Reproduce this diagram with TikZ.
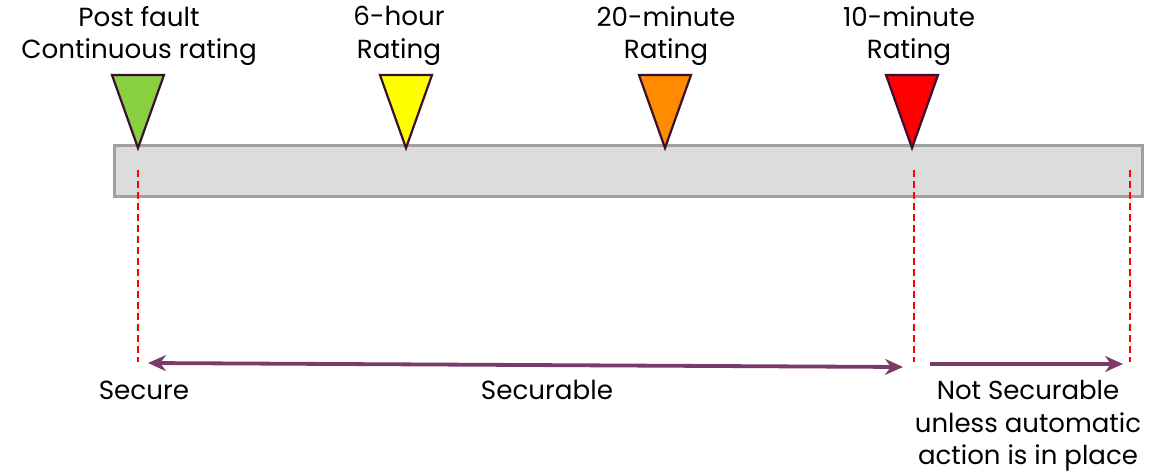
\documentclass[tikz,border=0pt]{standalone}
\usepackage{fontspec}
\setmainfont{Poppins}
\usetikzlibrary{arrows.meta}
\definecolor{barfill}{HTML}{DCDCDC}
\definecolor{barline}{HTML}{A0A0A0}
\definecolor{triline}{HTML}{3A0F33}
\definecolor{arrowc}{HTML}{7A3A6C}
\definecolor{tgreen}{HTML}{88D040}
\definecolor{tyellow}{HTML}{FFFF00}
\definecolor{torange}{HTML}{FF8C00}
\definecolor{tred}{HTML}{FF0000}
\tikzset{
  lbl/.style={font=\fontsize{26.2}{32.5}\selectfont, align=center, inner sep=0pt},
  lblb/.style={font=\fontsize{26}{32.5}\selectfont, align=center, inner sep=0pt},
  marker/.style={draw=triline, line width=2.2pt, line join=miter},
  guide/.style={draw=red, line width=2pt, dash pattern=on 7pt off 4pt},
  span/.style={draw=arrowc, line width=3.8pt, >={Stealth[length=18pt,width=16pt]}},
}
\begin{document}
\begin{tikzpicture}[x=1pt,y=-1pt]
\useasboundingbox (0,0) rectangle (1155,474);
% bar
\node[draw=barline, fill=barfill, line width=2.5pt, minimum width=1028pt, minimum height=51pt, inner sep=0pt, anchor=north west] (bar) at (113,144) {};
% markers
\foreach \n/\x/\c in {m1/138/tgreen, m2/406/tyellow, m3/665/torange, m4/912/tred}{
  \path[marker, fill=\c] (\x-26,75) -- (\x+26,75) -- (\x,148) -- cycle;
  \coordinate (\n) at (\x,148);
}
% top labels
\node[lbl] (t1) at (139,36) {Post fault\\Continuous rating};
\node[lbl] (t2) at (399,36) {6-hour\\Rating};
\node[lbl] (t3) at (666,36) {20-minute\\Rating};
\node[lbl] (t4) at (909,36) {10-minute\\Rating};
% dashed guides
\coordinate (g1a) at (138,170); \coordinate (g1b) at (138,362);
\coordinate (g2a) at (914,170); \coordinate (g2b) at (914,362);
\coordinate (g3a) at (1130,170); \coordinate (g3b) at (1130,362);
\draw[guide] (g1a) -- (g1b);
\draw[guide] (g2a) -- (g2b);
\draw[guide] (g3a) -- (g3b);
% arrows
\coordinate (a1) at (148,363);
\coordinate (a2) at (903,367);
\coordinate (b1) at (930,364);
\coordinate (b2) at (1123,364);
\draw[span, <->] (a1) -- (a2);
\draw[span, ->] (b1) -- (b2);
% bottom labels
\node[lbl] (s1) at (144,390) {Secure};
\node[lbl] (s2) at (547,390) {Securable};
\node[lblb] (s3) at (1028,426) {Not Securable\\unless automatic\\action is in place};
\end{tikzpicture}
\end{document}
